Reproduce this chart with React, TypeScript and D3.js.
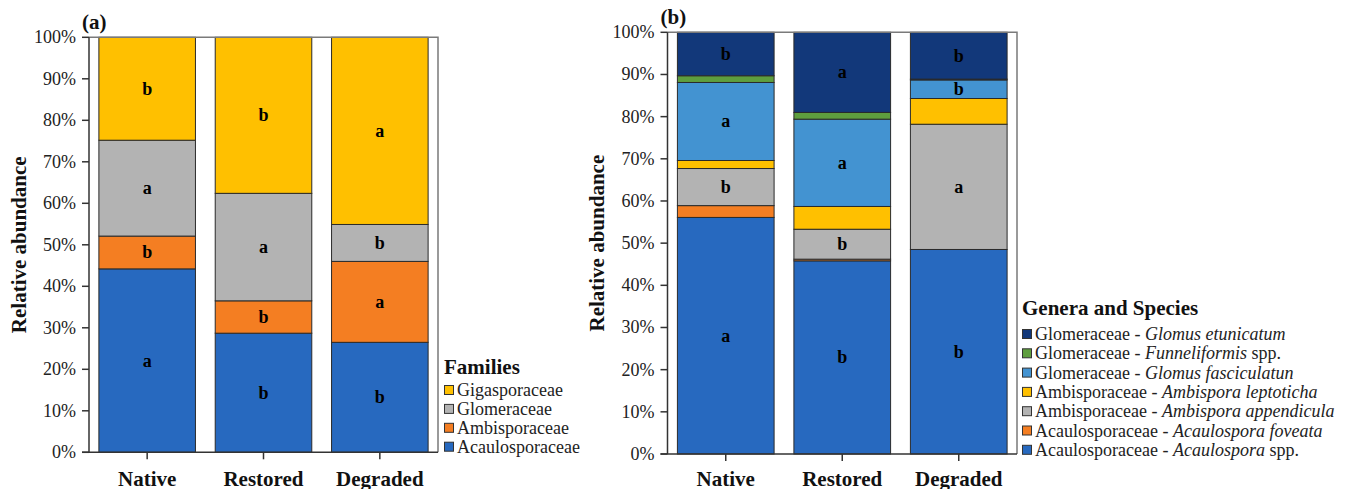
import React from "react";
import * as d3 from "d3";

// Sites shown on both panels
const sites = ["Native", "Restored", "Degraded"];

// Panel (a): families, stacked bottom to top
const familyNames = ["Acaulosporaceae", "Ambisporaceae", "Glomeraceae", "Gigasporaceae"];
const familyColors = ["#2769BF", "#F47E22", "#B3B3B3", "#FFC000"];
const familyValues = [
  [44.2, 7.9, 23.1, 24.8], // Native
  [28.7, 7.8, 25.9, 37.6], // Restored
  [26.5, 19.5, 8.9, 45.1], // Degraded
];
const familyLetters = [
  ["a", "b", "a", "b"],
  ["b", "b", "a", "b"],
  ["b", "a", "b", "a"],
];

// Panel (b): genera and species, stacked bottom to top
const speciesFamily = [
  "Acaulosporaceae",
  "Acaulosporaceae",
  "Ambisporaceae",
  "Ambisporaceae",
  "Glomeraceae",
  "Glomeraceae",
  "Glomeraceae",
];
const speciesName = [
  "Acaulospora",
  "Acaulospora foveata",
  "Ambispora appendicula",
  "Ambispora leptoticha",
  "Glomus fasciculatun",
  "Funneliformis",
  "Glomus etunicatum",
];
const speciesSuffix = [" spp.", "", "", "", "", " spp.", ""];
const speciesColors = ["#2769BF", "#F47E22", "#B3B3B3", "#FFC000", "#4393D1", "#5E9E3E", "#12387A"];
const speciesValues = [
  [56.1, 2.8, 8.8, 1.9, 18.5, 1.6, 10.3], // Native
  [45.8, 0.4, 7.1, 5.4, 20.7, 1.6, 19.0], // Restored
  [48.5, 0.0, 29.7, 6.1, 4.4, 0.2, 11.1], // Degraded
];
const speciesLetters = [
  ["a", "", "b", "", "a", "", "b"],
  ["b", "", "b", "", "a", "", "a"],
  ["b", "", "a", "", "b", "", "b"],
];

const yTicks = [0, 10, 20, 30, 40, 50, 60, 70, 80, 90, 100];

const FONT = "'Liberation Serif', 'Times New Roman', serif";

type PanelProps = {
  tag: string;
  x0: number;
  x1: number;
  yTop: number;
  yBottom: number;
  values: number[][];
  letters: string[][];
  colors: string[];
  titleX: number;
};

function StackPanel({ tag, x0, x1, yTop, yBottom, values, letters, colors, titleX }: PanelProps) {
  const x = d3.scaleBand<string>().domain(sites).range([x0, x1]).paddingInner(0.17).paddingOuter(0.085);
  const y = d3.scaleLinear().domain([0, 100]).range([yBottom, yTop]);
  const keys = values[0].map((_, i) => String(i));
  const rows = sites.map((s, si) => {
    const r: Record<string, number | string> = { site: s };
    values[si].forEach((v, k) => (r[String(k)] = v));
    return r;
  });
  const series = d3.stack<Record<string, number | string>>().keys(keys)(rows as any);

  return (
    <g>
      {/* stacked segments */}
      {series.map((s, k) =>
        s.map((d, si) => {
          const h = y(d[0]) - y(d[1]);
          if (h <= 0) return null;
          return (
            <rect
              key={`r${k}-${si}`}
              x={x(sites[si])!}
              y={y(d[1])}
              width={x.bandwidth()}
              height={h}
              fill={colors[k]}
              stroke="#2a2a2a"
              strokeWidth={1}
            />
          );
        })
      )}
      {/* significance letters */}
      {series.map((s, k) =>
        s.map((d, si) => {
          const t = letters[si][k];
          if (!t) return null;
          return (
            <text
              key={`t${k}-${si}`}
              x={x(sites[si])! + x.bandwidth() / 2}
              y={y((d[0] + d[1]) / 2)}
              textAnchor="middle"
              dominantBaseline="central"
              fontFamily={FONT}
              fontWeight="bold"
              fontSize={18}
              fill="#000"
            >
              {t}
            </text>
          );
        })
      )}
      {/* frame: top and right */}
      <path d={`M${x0},${yTop}H${x1}V${yBottom}`} fill="none" stroke="#7a7a7a" strokeWidth={1.5} />
      {/* y axis */}
      <line x1={x0} x2={x0} y1={yTop} y2={yBottom} stroke="#333" strokeWidth={1.5} />
      {yTicks.map((t) => (
        <g key={`yt${t}`}>
          <line x1={x0 - 7} x2={x0} y1={y(t)} y2={y(t)} stroke="#333" strokeWidth={1.5} />
          <text
            x={x0 - 13}
            y={y(t)}
            textAnchor="end"
            dominantBaseline="central"
            fontFamily={FONT}
            fontSize={18}
            fill="#222"
          >
            {`${t}%`}
          </text>
        </g>
      ))}
      {/* x axis */}
      <line x1={x0 - 7} x2={x1} y1={yBottom} y2={yBottom} stroke="#333" strokeWidth={1.5} />
      {sites.map((s) => {
        const cx = x(s)! + x.bandwidth() / 2;
        return (
          <g key={`xt${s}`}>
            <line x1={cx} x2={cx} y1={yBottom} y2={yBottom + 7} stroke="#333" strokeWidth={1.5} />
            <text x={cx} y={486} textAnchor="middle" fontFamily={FONT} fontWeight="bold" fontSize={21} fill="#111">
              {s}
            </text>
          </g>
        );
      })}
      {/* axis title */}
      <text
        transform={`translate(${titleX},${(yTop + yBottom) / 2}) rotate(-90)`}
        textAnchor="middle"
        dominantBaseline="central"
        fontFamily={FONT}
        fontWeight="bold"
        fontSize={21}
        fill="#111"
      >
        Relative abundance
      </text>
      {/* panel tag */}
      <text x={x0 - 7} y={yTop - 8} fontFamily={FONT} fontWeight="bold" fontSize={21} fill="#111">
        {tag}
      </text>
    </g>
  );
}

export default function App() {
  // legend order is top of stack first
  const famOrder = [3, 2, 1, 0];
  const spOrder = [6, 5, 4, 3, 2, 1, 0];
  return (
    <svg
      width={1354}
      height={489}
      style={{ position: "absolute", left: 0, top: 0, background: "#fff" }}
    >
      <rect width={1354} height={489} fill="#fff" />
      <StackPanel
        tag="(a)"
        x0={89}
        x1={438}
        yTop={37.3}
        yBottom={452.3}
        values={familyValues}
        letters={familyLetters}
        colors={familyColors}
        titleX={19}
      />
      <StackPanel
        tag="(b)"
        x0={667.5}
        x1={1017}
        yTop={32.3}
        yBottom={454}
        values={speciesValues}
        letters={speciesLetters}
        colors={speciesColors}
        titleX={597}
      />

      {/* legend (a) */}
      <g fontFamily={FONT}>
        <text x={444} y={374} fontWeight="bold" fontSize={21} fill="#111">
          Families
        </text>
        {famOrder.map((k, i) => {
          const cy = 390 + i * 18.9;
          return (
            <g key={`fl${k}`}>
              <rect x={444.5} y={cy - 4.5} width={9} height={9} fill={familyColors[k]} stroke="#333" strokeWidth={1} />
              <text x={457} y={cy} dominantBaseline="central" fontSize={18} fill="#222">
                {familyNames[k]}
              </text>
            </g>
          );
        })}
      </g>

      {/* legend (b) */}
      <g fontFamily={FONT}>
        <text x={1022} y={315} fontWeight="bold" fontSize={21} fill="#111">
          Genera and Species
        </text>
        {spOrder.map((k, i) => {
          const cy = 334 + i * 19.3;
          return (
            <g key={`sl${k}`}>
              <rect x={1022.5} y={cy - 4.5} width={9} height={9} fill={speciesColors[k]} stroke="#333" strokeWidth={1} />
              <text x={1035} y={cy} dominantBaseline="central" fontSize={18} fill="#222">
                {`${speciesFamily[k]} - `}
                <tspan fontStyle="italic">{speciesName[k]}</tspan>
                {speciesSuffix[k]}
              </text>
            </g>
          );
        })}
      </g>
    </svg>
  );
}
